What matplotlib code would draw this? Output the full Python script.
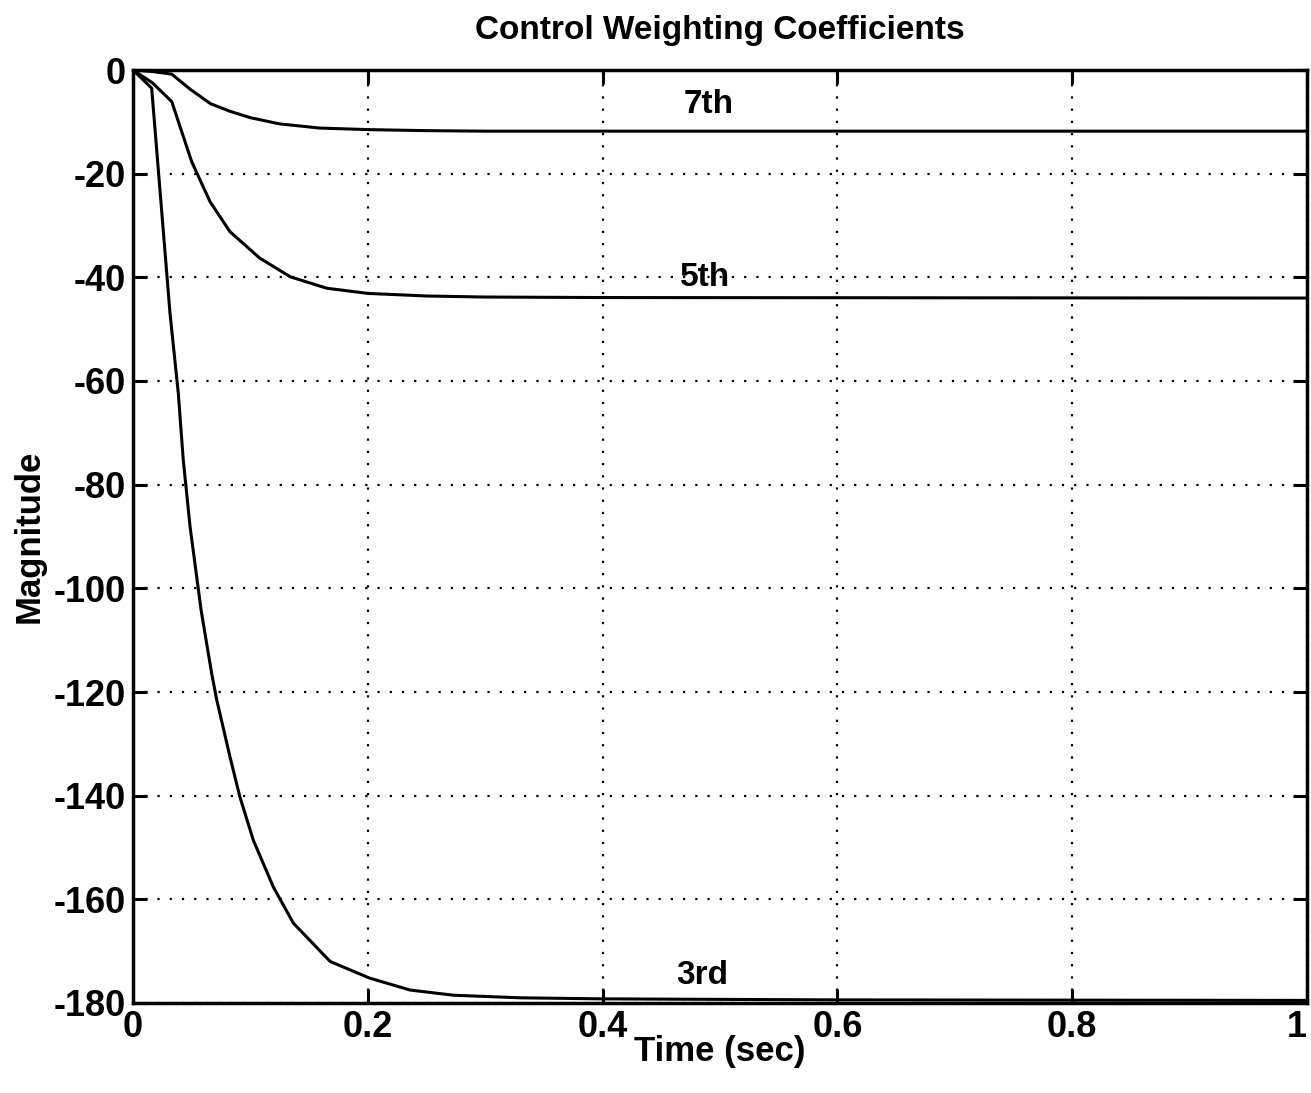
import matplotlib
matplotlib.use("Agg")
import matplotlib.pyplot as plt

# ---- data ----
t7 = [0, 0.0167, 0.033, 0.0486, 0.066, 0.083, 0.1, 0.125, 0.159, 0.2, 0.25, 0.3, 0.5, 1.0]
y7 = [0, -0.3, -0.8, -3.7, -6.5, -8.0, -9.2, -10.4, -11.2, -11.5, -11.7, -11.8, -11.8, -11.8]

t5 = [0, 0.0167, 0.033, 0.05, 0.0656, 0.0826, 0.108, 0.134, 0.165, 0.2, 0.25, 0.3, 0.4, 1.0]
y5 = [0, -2.5, -6.1, -17.7, -25.4, -31.2, -36.3, -39.9, -42.1, -43.1, -43.6, -43.8, -43.9, -44.0]

t3 = [0, 0.0159, 0.0315, 0.0386, 0.0428, 0.0486, 0.058, 0.067, 0.0713, 0.0826, 0.091,
      0.1025, 0.1195, 0.1366, 0.168, 0.2016, 0.236, 0.273, 0.33, 0.4, 0.6, 1.0]
y3 = [0, -3.5, -46.9, -62.4, -75.2, -88.1, -104.2, -116.4, -121.5, -132.5, -140.2,
      -148.6, -157.6, -164.6, -172.0, -175.2, -177.5, -178.5, -179.0, -179.2, -179.4, -179.5]

labels = ["7th", "5th", "3rd"]
label_t = [0.49, 0.487, 0.485]
label_y = [-6.7, -40.0, -174.6]

xticks = [0, 0.2, 0.4, 0.6, 0.8, 1]
xticklabels = ["0", "0.2", "0.4", "0.6", "0.8", "1"]
yticks = [0, -20, -40, -60, -80, -100, -120, -140, -160, -180]
yticklabels = ["0", "-20", "-40", "-60", "-80", "-100", "-120", "-140", "-160", "-180"]

plt.rcParams['font.family'] = ['Liberation Sans', 'DejaVu Sans']

fig = plt.figure(figsize=(13.11, 10.93), dpi=100)
ax = fig.add_axes([133/1311, 1 - 1003/1093, (1307-133)/1311, (1003-70)/1093])

for t, y in [(t7, y7), (t5, y5), (t3, y3)]:
    ax.plot(t, y, color='black', lw=2.2)

for lab, lt, ly in zip(labels, label_t, label_y):
    ax.text(lt, ly, lab, ha='center', va='center', fontsize=24, fontweight='bold')

ax.set_xlim(0, 1)
ax.set_ylim(-180, 0)
ax.set_xticks(xticks)
ax.set_xticklabels(xticklabels)
ax.set_yticks(yticks)
ax.set_yticklabels(yticklabels)
ax.grid(True, color='black', linestyle=(0, (1, 4.5)), linewidth=1.6)
ax.tick_params(direction='in', length=10, width=2.2, labelsize=26, pad=5,
               top=True, right=True)
for lbl in ax.get_xticklabels() + ax.get_yticklabels():
    lbl.set_fontweight('bold')
ax.get_xticklabels()[-1].set_ha('right')
for s in ax.spines.values():
    s.set_linewidth(2.5)

ax.set_xlabel("Time (sec)", fontsize=25, fontweight='bold', labelpad=-7)
ax.set_ylabel("Magnitude", fontsize=25, fontweight='bold', labelpad=6)
ax.set_title("Control Weighting Coefficients", fontsize=24, fontweight='bold', pad=22)

fig.savefig("out.png", dpi=100)
